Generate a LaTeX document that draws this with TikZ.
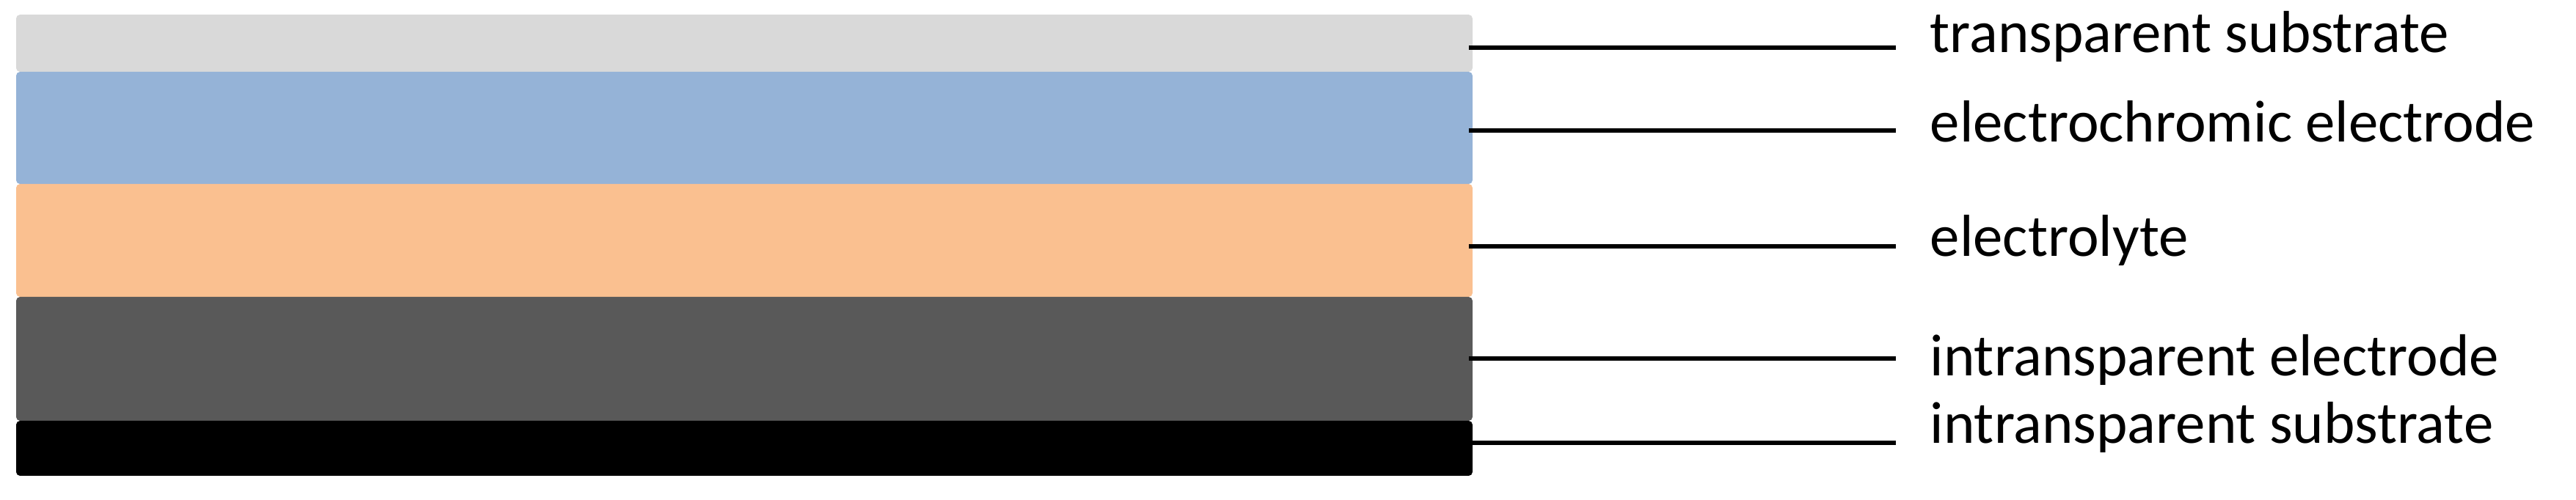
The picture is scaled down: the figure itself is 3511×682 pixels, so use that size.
\documentclass[tikz,border=0pt]{standalone}
\usepackage{fontspec}
\setmainfont{Carlito}
\definecolor{tsub}{HTML}{D9D9D9}
\definecolor{ecel}{HTML}{95B3D7}
\definecolor{elyt}{HTML}{FAC090}
\definecolor{iele}{HTML}{595959}
\definecolor{isub}{HTML}{000000}
\begin{document}
\begin{tikzpicture}[x=0.01cm,y=0.01cm,
  lead/.style={line width=1.7pt},
  lbl/.style={anchor=base west,inner sep=0pt,font=\fontsize{23}{27}\selectfont}]
  \useasboundingbox (0,0) rectangle (3511,682);
  % layers, top to bottom
  \foreach \n/\c/\lo/\hi in {ts/tsub/584/662,ec/ecel/431/584,el/elyt/277/431,ie/iele/108/277,is/isub/33/108} {
    \fill[\c,rounded corners=1.5pt] (22,\lo) rectangle (2007,\hi);
  }
  % leader lines and labels
  \foreach \n/\ly/\by/\txt in {ts/617/610/transparent substrate,
      ec/504/488/electrochromic electrode,
      el/346/332/electrolyte,
      ie/193/169/intransparent electrode,
      is/78/77/intransparent substrate} {
    \coordinate (\n-a) at (2002,\ly);
    \coordinate (\n-b) at (2584,\ly);
    \node[lbl] (\n-lbl) at (2630,\by) {\txt};
    \draw[lead] (\n-a) -- (\n-b);
  }
\end{tikzpicture}
\end{document}
